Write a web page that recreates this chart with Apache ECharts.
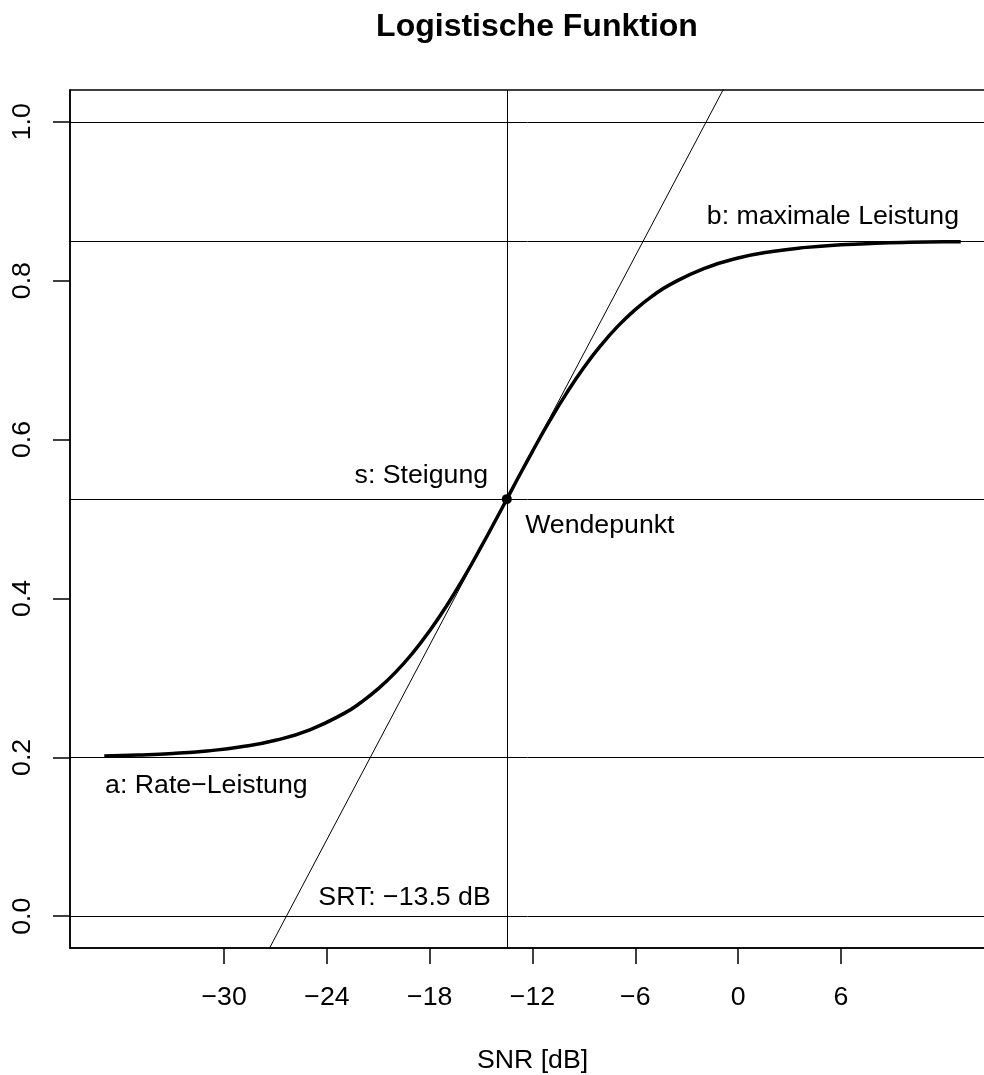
<!DOCTYPE html>
<html>
<head>
<meta charset="utf-8">
<script src="https://cdn.jsdelivr.net/npm/echarts@6/dist/echarts.min.js"></script>
<style>
html,body{margin:0;padding:0;background:#fff;}
#chart{width:984px;height:1075px;}
</style>
</head>
<body>
<div id="chart"></div>
<script>
// ---- data ----
var titleText = 'Logistische Funktion';
var xAxisName = 'SNR [dB]';
var xTicks = [-30, -24, -18, -12, -6, 0, 6];
var yTicks = [0, 0.2, 0.4, 0.6, 0.8, 1.0];
var xRange = [-39, 15];
var yRange = [-0.04, 1.04];

// logistic curve samples (SNR in dB, performance)
var curveX = [-37, -35, -33, -31, -29, -27, -25, -23, -22, -21, -20, -19, -18, -17, -16, -15, -14, -13.5, -13, -12, -11, -10, -9, -8, -7, -6, -5, -4, -2, 0, 2, 4, 6, 8, 10, 12, 13];
var curveY = [0.2018, 0.2030, 0.2049, 0.2081, 0.2132, 0.2215, 0.2347, 0.2553, 0.2693, 0.2864, 0.3069, 0.3312, 0.3593, 0.3912, 0.4266, 0.4648, 0.5047, 0.525, 0.5453, 0.5852, 0.6234, 0.6588, 0.6907, 0.7188, 0.7431, 0.7636, 0.7807, 0.7947, 0.8153, 0.8285, 0.8368, 0.8419, 0.8451, 0.8470, 0.8482, 0.8489, 0.8491];

// reference lines
var hLines = [0, 0.2, 0.525, 0.85, 1.0];
var vLines = [-13.5];

// inflection point and tangent
var srt = -13.5;
var midY = 0.525;
var slope = 0.0408;
var tangentX = [-30, 3];

// annotations
var annX = [12.9, -14.59, -12.43, -36.95, -14.44];
var annY = [0.8806, 0.5546, 0.4912, 0.1649, 0.0235];
var annText = ['b: maximale Leistung', 's: Steigung', 'Wendepunkt', 'a: Rate\u2212Leistung', 'SRT: \u221213.5 dB'];
var annAlign = ['right', 'right', 'left', 'left', 'right'];

// ---- build chart ----
var FONT = '"Liberation Sans", Arial, Helvetica, sans-serif';
var FS = 26.7;

var curveData = curveX.map(function (x, i) { return [x, curveY[i]]; });
var tangentData = tangentX.map(function (x) { return [x, midY + slope * (x - srt)]; });
var annData = annX.map(function (x, i) {
  return {
    value: [x, annY[i]],
    label: { formatter: annText[i], align: annAlign[i], color: '#000' }
  };
});
var markData = hLines.map(function (v) { return { yAxis: v }; })
  .concat(vLines.map(function (v) { return { xAxis: v }; }));

function fmtX(v) { return String(v).replace('-', '\u2212'); }
function fmtY(v) { return Number(v).toFixed(1); }

var chart = echarts.init(document.getElementById('chart'), null, { renderer: 'canvas' });
chart.setOption({
  animation: false,
  backgroundColor: '#fff',
  title: {
    text: titleText,
    left: 532,
    top: 6,
    textAlign: 'center',
    textStyle: { fontFamily: FONT, fontSize: 32, fontWeight: 'bold', color: '#000' }
  },
  grid: {
    left: 70, top: 90, right: -11, bottom: 127,
    show: true, borderColor: '#000', borderWidth: 1.5, backgroundColor: 'transparent',
    containLabel: false, outerBoundsMode: 'none'
  },
  xAxis: {
    type: 'value', min: xRange[0], max: xRange[1],
    name: xAxisName, nameLocation: 'middle', nameGap: 99,
    nameTextStyle: { fontFamily: FONT, fontSize: FS, color: '#000' },
    axisLine: { show: true, onZero: false, lineStyle: { color: '#000', width: 1.5 } },
    axisTick: { show: true, length: 16, lineStyle: { color: '#000', width: 1.5 }, customValues: xTicks },
    axisLabel: { show: true, margin: 36, customValues: xTicks, formatter: fmtX,
      fontFamily: FONT, fontSize: FS, color: '#000' },
    splitLine: { show: false }
  },
  yAxis: {
    type: 'value', min: yRange[0], max: yRange[1],
    axisLine: { show: true, onZero: false, lineStyle: { color: '#000', width: 1.5 } },
    axisTick: { show: true, length: 17, lineStyle: { color: '#000', width: 1.5 }, customValues: yTicks },
    axisLabel: { show: true, margin: 34, rotate: 90, customValues: yTicks, formatter: fmtY,
      fontFamily: FONT, fontSize: FS, color: '#000' },
    splitLine: { show: false }
  },
  series: [
    {
      type: 'line', name: 'ref', data: [], silent: true,
      markLine: {
        silent: true, symbol: 'none', animation: false, precision: 4,
        label: { show: false },
        lineStyle: { color: '#000', width: 1, type: 'solid' },
        emphasis: { disabled: true },
        data: markData
      }
    },
    {
      type: 'line', name: 'tangent', data: tangentData, showSymbol: false, silent: true,
      clip: true, lineStyle: { color: '#000', width: 1 }
    },
    {
      type: 'line', name: 'curve', data: curveData, smooth: true, showSymbol: false, silent: true,
      lineStyle: { color: '#000', width: 3.5 }
    },
    {
      type: 'scatter', name: 'point', data: [[srt, midY]], symbol: 'circle', symbolSize: 10,
      itemStyle: { color: '#000', opacity: 1 }, silent: true
    },
    {
      type: 'scatter', name: 'labels', data: annData, symbolSize: 0, silent: true,
      itemStyle: { color: '#000', opacity: 1 },
      label: {
        show: true, position: [0, 0], verticalAlign: 'middle', opacity: 1,
        fontFamily: FONT, fontSize: FS, color: '#000'
      }
    }
  ]
});
</script>
</body>
</html>
